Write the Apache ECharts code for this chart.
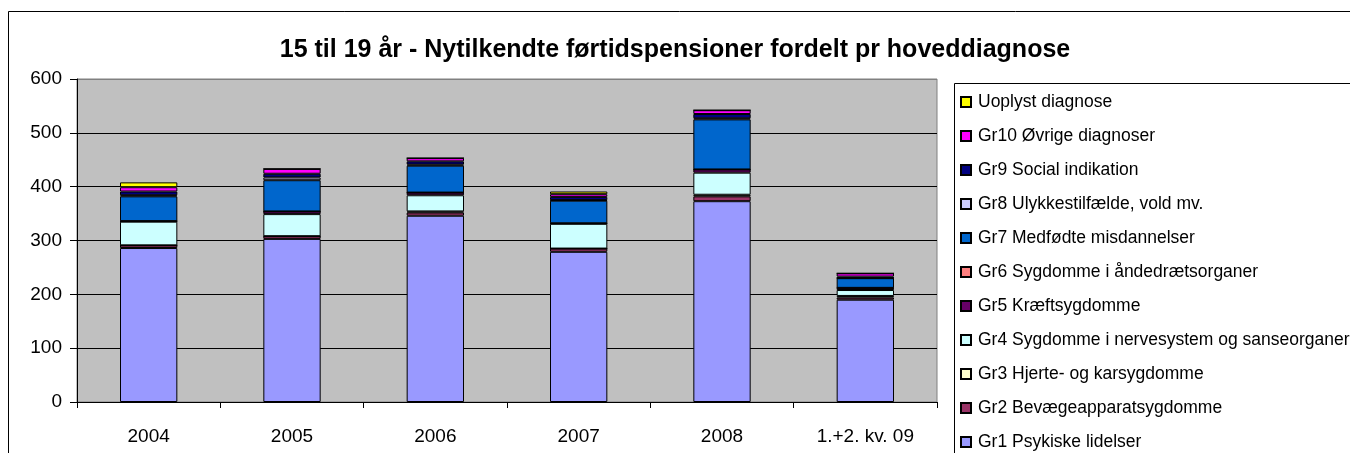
<!DOCTYPE html>
<html>
<head>
<meta charset="utf-8">
<script src="https://cdn.jsdelivr.net/npm/echarts@6/dist/echarts.min.js"></script>
<style>html,body{margin:0;padding:0;background:#fff}#c{width:1350px;height:453px}</style>
</head>
<body>
<div id="c"></div>
<script>
var categories = ['2004', '2005', '2006', '2007', '2008', '1.+2. kv. 09'];
var yTicks = [0, 100, 200, 300, 400, 500, 600];

var seriesNames = [
  'Gr1 Psykiske lidelser',
  'Gr2 Bevægeapparatsygdomme',
  'Gr3 Hjerte- og karsygdomme',
  'Gr4 Sygdomme i nervesystem og sanseorganer',
  'Gr5 Kræftsygdomme',
  'Gr6 Sygdomme i åndedrætsorganer',
  'Gr7 Medfødte misdannelser',
  'Gr8 Ulykkestilfælde, vold mv.',
  'Gr9 Social indikation',
  'Gr10 Øvrige diagnoser',
  'Uoplyst diagnose'
];
var gr1 = [286, 303, 346, 279, 373, 190];
var gr2 = [5, 5, 6, 6, 9, 4];
var gr3 = [0, 0, 2, 0, 3, 3];
var gr4 = [44, 41, 30, 46, 41, 11];
var gr5 = [1, 5, 5, 1, 6, 4];
var gr6 = [0, 0, 0, 0, 0, 0];
var gr7 = [46, 58, 50, 42, 93, 18];
var gr8 = [2, 5, 2, 1, 2, 0];
var gr9 = [7, 7, 6, 6, 8, 3];
var gr10 = [8, 9, 6, 5, 7, 6];
var uoplyst = [9, 0, 0, 5, 0, 0];
var seriesValues = [gr1, gr2, gr3, gr4, gr5, gr6, gr7, gr8, gr9, gr10, uoplyst];
var seriesColors = ['#9999FF', '#993366', '#FFFFCC', '#CCFFFF', '#660066', '#FF8080', '#0066CC', '#CCCCFF', '#000080', '#FF00FF', '#FFFF00'];

var FONT = '"Liberation Sans", Arial, sans-serif';
var chart = echarts.init(document.getElementById('c'), null, {renderer: 'canvas'});

var series = seriesNames.map(function (n, i) {
  return {
    name: n,
    type: 'bar',
    stack: 'total',
    data: seriesValues[i],
    barWidth: '40%',
    itemStyle: {color: seriesColors[i], borderColor: '#000', borderWidth: 1},
    emphasis: {disabled: true}
  };
});

chart.setOption({
  animation: false,
  backgroundColor: '#fff',
  title: {
    text: '15 til 19 år - Nytilkendte førtidspensioner fordelt pr hoveddiagnose',
    left: 'center', top: 33,
    textStyle: {fontFamily: FONT, fontSize: 25, fontWeight: 'bold', color: '#000'}
  },
  grid: {
    left: 77, right: 413, top: 79, bottom: 51,
    show: true, backgroundColor: '#C0C0C0', borderColor: '#808080', borderWidth: 1
  },
  legend: {
    orient: 'vertical',
    left: 960, top: 93, height: 420,
    padding: 0,
    data: seriesNames.slice().reverse(),
    icon: 'rect',
    itemWidth: 10, itemHeight: 10,
    itemGap: 16,
    textStyle: {fontFamily: FONT, fontSize: 17.5, lineHeight: 17, color: '#000', padding: [0, 0, 0, 2]},
    selectedMode: false
  },
  xAxis: {
    type: 'category',
    data: categories,
    axisLine: {lineStyle: {color: '#000', width: 1}},
    axisTick: {show: true, length: 6, lineStyle: {color: '#000'}},
    axisLabel: {fontFamily: FONT, fontSize: 19, color: '#000', margin: 25},
    splitLine: {show: false}
  },
  yAxis: {
    type: 'value',
    min: yTicks[0], max: yTicks[yTicks.length - 1], interval: 100,
    axisLine: {show: true, lineStyle: {color: '#000', width: 1}},
    axisTick: {show: true, length: 7, lineStyle: {color: '#000'}},
    axisLabel: {fontFamily: FONT, fontSize: 19, color: '#000', margin: 15},
    splitLine: {show: true, lineStyle: {color: ['#000', '#000', '#000', '#000', '#000', '#000', '#808080'], width: 1}}
  },
  graphic: [
    {type: 'rect', shape: {x: 8.5, y: 11.5, width: 1400, height: 500}, style: {fill: 'none', stroke: '#000', lineWidth: 1}, silent: true},
    {type: 'rect', shape: {x: 954.5, y: 83.5, width: 500, height: 500}, style: {fill: 'none', stroke: '#000', lineWidth: 1}, silent: true}
  ],
  series: series
});
</script>
</body>
</html>
